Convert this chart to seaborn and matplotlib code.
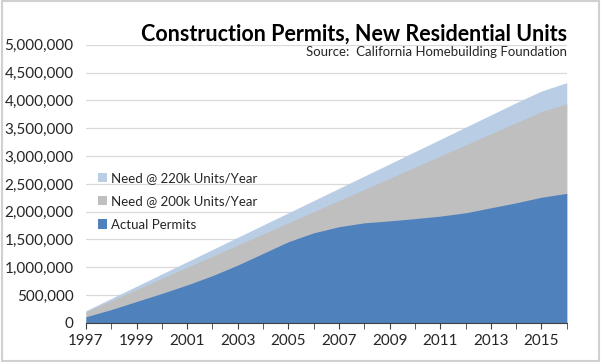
import matplotlib
matplotlib.use('Agg')
import matplotlib.pyplot as plt
import matplotlib.ticker as mticker
import seaborn as sns
import pandas as pd

# Cumulative units, 1997-2016
years = list(range(1997, 2017))
need_220k = [220000, 440000, 660000, 880000, 1100000, 1320000, 1540000, 1760000, 1980000, 2200000,
             2420000, 2640000, 2860000, 3080000, 3300000, 3520000, 3740000, 3960000, 4170000, 4320000]
need_200k = [200000, 400000, 600000, 800000, 1000000, 1200000, 1400000, 1600000, 1800000, 2000000,
             2200000, 2400000, 2600000, 2800000, 3000000, 3200000, 3400000, 3600000, 3800000, 3940000]
actual = [110000, 240000, 385000, 530000, 683000, 850000, 1040000, 1250000, 1460000, 1620000,
          1730000, 1800000, 1835000, 1875000, 1920000, 1980000, 2070000, 2160000, 2260000, 2330000]

df = pd.DataFrame({'Year': years, 'Need @ 220k Units/Year': need_220k,
                   'Need @ 200k Units/Year': need_200k, 'Actual Permits': actual})
colors = {'Need @ 220k Units/Year': '#B9CDE5',
          'Need @ 200k Units/Year': '#BFBFBF',
          'Actual Permits': '#4F81BD'}

sns.set_style('white')
plt.rcParams['font.family'] = ['Lato', 'DejaVu Sans']

fig = plt.figure(figsize=(6.01, 3.62), dpi=100)
ax = fig.add_axes([0.143, 0.108, 0.8, 0.768])

for col, c in colors.items():
    sns.lineplot(data=df, x='Year', y=col, ax=ax, color=c, linewidth=0)
    ax.fill_between(df['Year'], df[col], color=c, linewidth=0, label=col)

ax.set_xlim(1997, 2016)
ax.set_ylim(0, 5000000)
ax.yaxis.set_major_locator(mticker.MultipleLocator(500000))
ax.yaxis.set_major_formatter(mticker.FuncFormatter(lambda v, p: f'{int(v):,}'))
ax.set_xticks(range(1997, 2016, 2))
ax.set_xticks(range(1997, 2017), minor=True)
ax.grid(axis='y', color='#D9D9D9', linewidth=0.9)
ax.set_axisbelow(True)
ax.set_xlabel('')
ax.set_ylabel('')
for s in ['top', 'right', 'left']:
    ax.spines[s].set_visible(False)
ax.spines['bottom'].set_color('#404040')
ax.tick_params(axis='y', length=0, pad=9, labelsize=11, colors='#262626')
ax.tick_params(axis='x', which='both', direction='out', bottom=True, length=4,
               color='#404040', labelsize=11, colors='#262626', pad=4)

ax.legend(loc='upper left', bbox_to_anchor=(0.0, 0.585), frameon=False, fontsize=9.5,
          handlelength=0.7, handleheight=0.7, handletextpad=0.3, labelspacing=0.85)

fig.text(0.943, 0.905, 'Construction Permits, New Residential Units', ha='right', va='center',
         fontsize=15.5, fontweight='bold', color='black')
fig.text(0.943, 0.855, 'Source:  California Homebuilding Foundation', ha='right', va='center',
         fontsize=9.5, color='#262626')

fig.patches.append(plt.Rectangle((0.003, 0.004), 0.994, 0.992, transform=fig.transFigure,
                                 fill=False, edgecolor='#D0D0D0', linewidth=1.5))

fig.savefig('out.png', dpi=100)
